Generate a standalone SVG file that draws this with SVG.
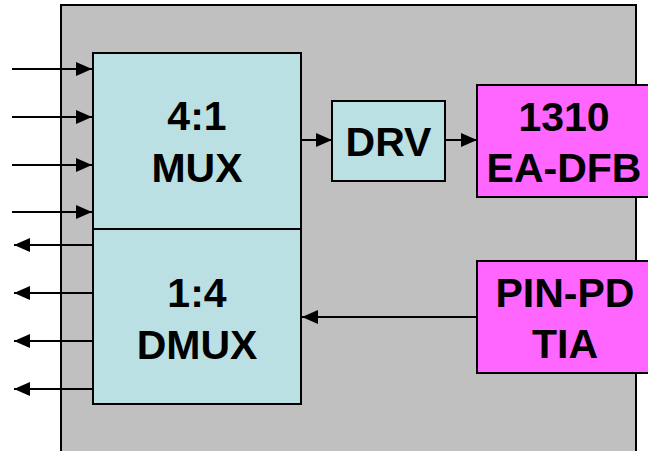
<svg xmlns="http://www.w3.org/2000/svg" width="648" height="451" viewBox="0 0 648 451">
<defs>
<style>
.box{stroke:#000;stroke-width:2}
.blue{fill:#BBE0E3}
.pink{fill:#FF66FF}
.lbl{font-family:"Liberation Sans",Arial,sans-serif;font-weight:bold;font-size:41px;fill:#000;text-anchor:middle}
.wire{stroke:#000;stroke-width:2;fill:none;marker-end:url(#ah)}
</style>
<marker id="ah" viewBox="0 0 16 14" refX="16" refY="7" markerWidth="16" markerHeight="14" markerUnits="userSpaceOnUse" orient="auto">
<path d="M0,0 L16,7 L0,14 z" fill="#000"/>
</marker>
</defs>
<rect width="648" height="451" fill="#fff"/>
<g id="module">
<rect x="61" y="5" width="575" height="470" fill="#C0C0C0" class="box"/>
</g>
<g id="connectors">
<line class="wire" x1="12" y1="69" x2="92" y2="69"/>
<line class="wire" x1="12" y1="117" x2="92" y2="117"/>
<line class="wire" x1="12" y1="165" x2="92" y2="165"/>
<line class="wire" x1="12" y1="212" x2="92" y2="212"/>
<line class="wire" x1="93" y1="245" x2="14" y2="245"/>
<line class="wire" x1="93" y1="293" x2="14" y2="293"/>
<line class="wire" x1="93" y1="341" x2="14" y2="341"/>
<line class="wire" x1="93" y1="389" x2="14" y2="389"/>
<line class="wire" x1="301" y1="140" x2="332" y2="140"/>
<line class="wire" x1="445" y1="140" x2="477" y2="140"/>
<line class="wire" x1="477" y1="317" x2="302" y2="317"/>
</g>
<g id="mux">
<rect x="93" y="53" width="208" height="176" class="box blue"/>
<text class="lbl" x="197" y="130">4:1</text>
<text class="lbl" x="197" y="182">MUX</text>
</g>
<g id="dmux">
<rect x="93" y="229" width="208" height="175" class="box blue"/>
<text class="lbl" x="197" y="307">1:4</text>
<text class="lbl" x="197" y="359">DMUX</text>
</g>
<g id="drv">
<rect x="332" y="101" width="113" height="80" class="box blue"/>
<text class="lbl" x="388.5" y="156">DRV</text>
</g>
<g id="eadfb">
<rect x="477" y="85" width="176" height="112" class="box pink"/>
<text class="lbl" x="564" y="131">1310</text>
<text class="lbl" x="564" y="182">EA-DFB</text>
</g>
<g id="pinpd">
<rect x="477" y="261" width="176" height="112" class="box pink"/>
<text class="lbl" x="565" y="307">PIN-PD</text>
<text class="lbl" x="565" y="358">TIA</text>
</g>
</svg>
